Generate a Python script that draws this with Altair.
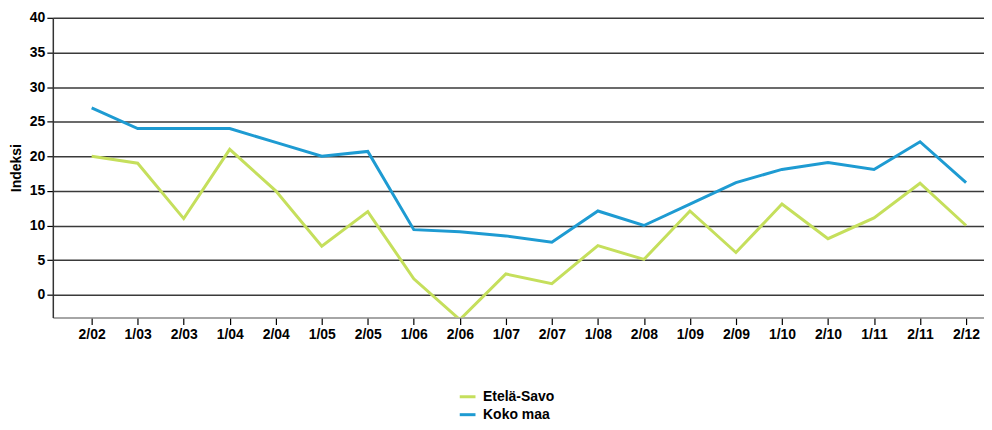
import altair as alt
import pandas as pd

categories = ["2/02", "1/03", "2/03", "1/04", "2/04", "1/05", "2/05", "1/06", "2/06", "1/07",
              "2/07", "1/08", "2/08", "1/09", "2/09", "1/10", "2/10", "1/11", "2/11", "2/12"]
etela_savo = [20, 19, 11, 21, 15, 7, 12, 2.3, -3.6, 3, 1.6, 7.1, 5.1, 12.1, 6.1, 13.1, 8.1, 11.1, 16.1, 10]
koko_maa = [27, 24, 24, 24, 22, 20, 20.7, 9.4, 9.1, 8.5, 7.6, 12.1, 10, 13.1, 16.2, 18.1, 19.1, 18.1, 22.1, 16.2]
series_names = ["Etelä-Savo", "Koko maa"]
colors = ["#c5df5c", "#1e9bd2"]

rows = []
for i, c in enumerate(categories):
    rows.append({"i": i, "cat": c, "series": series_names[0], "v": etela_savo[i]})
    rows.append({"i": i, "cat": c, "series": series_names[1], "v": koko_maa[i]})
df = pd.DataFrame(rows)

label_arr = "[" + ",".join("'" + c + "'" for c in categories) + "]"

chart = alt.Chart(df).mark_line(strokeWidth=3, clip=True).encode(
    x=alt.X("i:Q",
            scale=alt.Scale(domain=[-0.844, 19.39], nice=False, zero=False),
            axis=alt.Axis(values=list(range(len(categories))), labelExpr=label_arr + "[datum.value]",
                          title=None, grid=False, tickSize=7, tickColor="#000", tickWidth=1.2,
                          domainColor="#888", domainWidth=1.5,
                          labelFont="Liberation Sans", labelFontWeight="bold", labelFontSize=14,
                          labelColor="#000", labelPadding=3)),
    y=alt.Y("v:Q",
            scale=alt.Scale(domain=[-3.3, 40], nice=False, zero=False),
            axis=alt.Axis(values=list(range(0, 41, 5)), title="Indeksi",
                          titleFont="Liberation Sans", titleFontWeight="bold", titleFontSize=14,
                          titleColor="#000", titlePadding=6,
                          grid=True, gridColor="#3a3a3a", gridWidth=1.5,
                          tickSize=6, tickColor="#000", tickWidth=1.2,
                          domainColor="#333", domainWidth=1.5,
                          labelFont="Liberation Sans", labelFontWeight="bold", labelFontSize=14,
                          labelColor="#000", labelPadding=2)),
    color=alt.Color("series:N", scale=alt.Scale(domain=series_names, range=colors),
                    legend=alt.Legend(title=None, orient="none", legendX=407, legendY=371,
                                      symbolType="stroke", symbolStrokeWidth=3, symbolSize=250,
                                      labelFont="Liberation Sans", labelFontWeight="bold",
                                      labelFontSize=14, labelColor="#000", rowPadding=1,
                                      labelOffset=6)),
    detail="series:N",
).properties(
    width=935, height=301,
    autosize=alt.AutoSizeParams(type="none"),
    padding={"left": 45, "top": 9, "right": 0, "bottom": 105},
).configure_view(stroke=None)

chart.save("out.html", embed_options={"renderer": "svg", "actions": False})
